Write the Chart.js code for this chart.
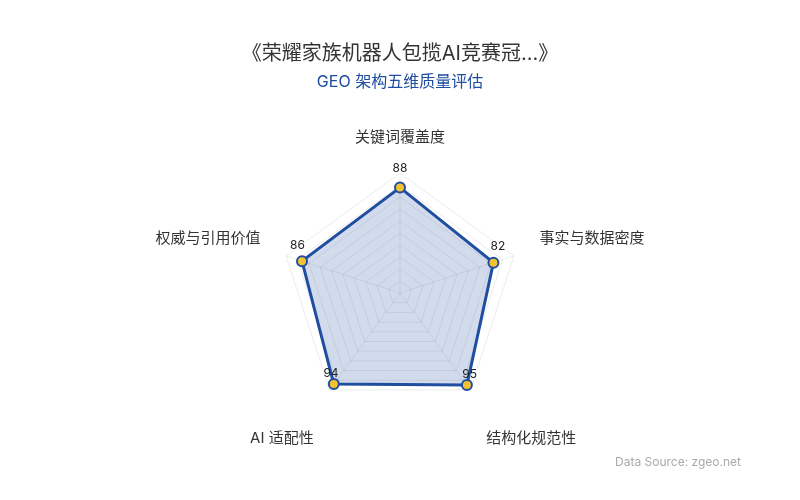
<!DOCTYPE html>
<html>
<head>
<meta charset="utf-8">
<script src="https://cdn.jsdelivr.net/npm/chart.js@4"></script>
<style>
  html, body { margin: 0; padding: 0; background: #fff; }
  #wrap { width: 800px; height: 500px; position: relative; }
</style>
</head>
<body>
<div id="wrap"><canvas id="radar"></canvas></div>
<script>
const dimensions = ["关键词覆盖度", "事实与数据密度", "结构化规范性", "AI 适配性", "权威与引用价值"];
const scores = [88, 82, 95, 94, 86];
const scaleTicks = [0, 10, 20, 30, 40, 50, 60, 70, 80, 90, 100];

const FONT = "Inter, 'Noto Sans CJK SC', sans-serif";

// value labels above each point (nudged a bit outward from the centre)
const valueLabels = {
  id: "valueLabels",
  afterDatasetsDraw(chart) {
    const ctx = chart.ctx;
    const r = chart.scales.r;
    const meta = chart.getDatasetMeta(0);
    ctx.save();
    ctx.font = "12px " + FONT;
    ctx.fillStyle = "#222";
    ctx.textAlign = "center";
    ctx.textBaseline = "middle";
    meta.data.forEach((pt, i) => {
      const dx = pt.x - r.xCenter;
      const dy = pt.y - r.yCenter;
      const len = Math.hypot(dx, dy) || 1;
      ctx.fillText(String(scores[i]), pt.x + dx / len * 4.8, pt.y + dy / len * 4.8 - 14.6);
    });
    ctx.restore();
  }
};

// source note bottom right
const sourceNote = {
  id: "sourceNote",
  afterDraw(chart) {
    const ctx = chart.ctx;
    ctx.save();
    ctx.font = "12px " + FONT;
    ctx.fillStyle = "#aaa";
    ctx.textAlign = "right";
    ctx.textBaseline = "middle";
    ctx.fillText("Data Source: zgeo.net", 741, 462);
    ctx.restore();
  }
};

new Chart(document.getElementById("radar"), {
  type: "radar",
  data: {
    labels: dimensions,
    datasets: [
      {
        data: scores,
        borderColor: "#1f4da0",
        backgroundColor: "rgba(31, 77, 160, 0.2)",
        borderWidth: 3,
        pointBackgroundColor: "#f2c230",
        pointBorderColor: "#1f4da0",
        pointBorderWidth: 2,
        pointRadius: 5,
        fill: true,
      },
    ],
  },
  options: {
    responsive: true,
    maintainAspectRatio: false,
    animation: false,
    layout: { padding: { top: 10, bottom: 48, left: 0, right: 0 } },
    plugins: {
      legend: { display: false },
      tooltip: { enabled: false },
      title: {
        display: true,
        text: "《荣耀家族机器人包揽AI竞赛冠...》",
        color: "#333",
        font: { family: FONT, size: 20, weight: "normal" },
        padding: { top: 32, bottom: 7 },
      },
      subtitle: {
        display: true,
        text: "GEO 架构五维质量评估",
        color: "#1f4da0",
        font: { family: FONT, size: 16, weight: "normal" },
        padding: { bottom: 30 },
      },
    },
    scales: {
      r: {
        min: scaleTicks[0],
        max: scaleTicks[scaleTicks.length - 1],
        ticks: { display: false, stepSize: scaleTicks[1] - scaleTicks[0] },
        grid: { color: "rgba(0, 0, 0, 0.08)" },
        angleLines: { color: "rgba(0, 0, 0, 0.08)" },
        pointLabels: {
          color: "#333",
          padding: 27,
          font: { family: FONT, size: 15 },
          // bottom labels sit a line lower
          callback: (label, i) => (i === 2 || i === 3 ? ["", label] : label),
        },
      },
    },
  },
  plugins: [valueLabels, sourceNote],
});
</script>
</body>
</html>
